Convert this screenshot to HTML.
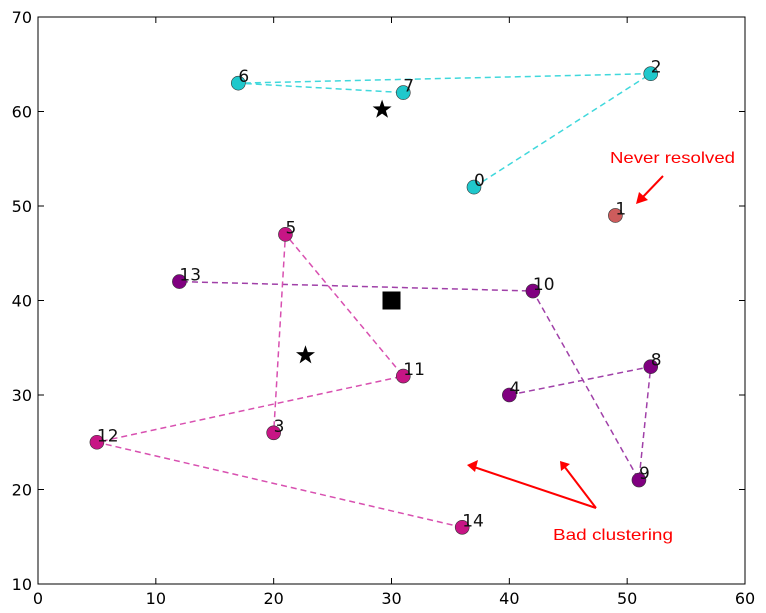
<!DOCTYPE html>
<html><head><meta charset="utf-8"><style>
body{margin:0;background:#fff;}
svg text{font-family:"DejaVu Sans","Liberation Sans",sans-serif;}
</style></head><body>
<svg id="chart" width="766" height="608" xmlns="http://www.w3.org/2000/svg">
<rect x="0" y="0" width="766" height="608" fill="#fff"/>
<g id="lines"></g><g id="marks"></g><g id="labels"></g>
<rect x="38" y="17" width="707" height="567" fill="none" stroke="#000" stroke-width="1"/>
<g id="axes"></g>
<g>
<text x="610" y="163" fill="red" font-size="16" textLength="125" lengthAdjust="spacingAndGlyphs" style="font-family:'Liberation Sans Narrow','Liberation Sans',sans-serif">Never resolved</text>
<line x1="663" y1="176" x2="640" y2="200" stroke="red" stroke-width="2"/>
<polygon points="636,204 639,192 648,200" fill="red"/>
</g>
<g>
<text x="553" y="540" fill="red" font-size="16" textLength="120" lengthAdjust="spacingAndGlyphs" style="font-family:'Liberation Sans Narrow','Liberation Sans',sans-serif">Bad clustering</text>
<line x1="596" y1="508" x2="474" y2="467" stroke="red" stroke-width="2"/>
<polygon points="467,465 478,460 475,472" fill="red"/>
<line x1="596" y1="508" x2="564" y2="466" stroke="red" stroke-width="2"/>
<polygon points="560,461 570,464 561,471" fill="red"/>
</g>
</svg>
<script>
const ids = [0,1,2,3,4,5,6,7,8,9,10,11,12,13,14];
const xs = [37,49,52,20,40,21,17,31,52,51,42,31,5,12,36];
const ys = [52,49,64,26,30,47,63,62,33,21,41,32,25,42,16];
const groups = ['c','r','c','m','p','m','c','c','p','p','p','m','m','p','m'];
const paths = {c:[0,2,6,7], p:[4,8,9,10,13], m:[14,12,11,5,3]};
const starsX = [29.2,22.7];
const starsY = [60.2,34.2];
const squareX = [30];
const squareY = [40];
const xTicks = [0,10,20,30,40,50,60];
const yTicks = [10,20,30,40,50,60,70];
const fill = {c:'#1fc8cc', r:'#cd5c5c', p:'#800080', m:'#c71585'};
const lineCol = {c:'#40d8dc', p:'#a040a8', m:'#d850b0'};
const X = v => 38 + v*707/60;
const Y = v => 584 - (v-10)*567/60;
const NS='http://www.w3.org/2000/svg';
function mk(t,a,p){const e=document.createElementNS(NS,t);for(const k in a)e.setAttribute(k,a[k]);p.appendChild(e);return e;}
const L=document.getElementById('lines'),M=document.getElementById('marks'),T=document.getElementById('labels'),A=document.getElementById('axes');
for(const g in paths){
  const pts=paths[g].map(i=>X(xs[i])+','+Y(ys[i])).join(' ');
  const e=mk('polyline',{points:pts,fill:'none',stroke:lineCol[g],'stroke-width':1.5,'stroke-dasharray':'6,4'},L);
  
  
}
ids.forEach((id,i)=>{
  const c=mk('circle',{cx:X(xs[i]),cy:Y(ys[i]),r:7,fill:fill[groups[i]],stroke:'#333','stroke-width':0.6},M);
  
  
  const t=mk('text',{x:X(xs[i]),y:Y(ys[i])-1,'font-size':17,fill:'#111'},T);
  t.textContent=id;
  
  
});
starsX.forEach((sx,i)=>{
  const cx=X(sx),cy=Y(starsY[i]);let p=[];
  for(let k=0;k<10;k++){const r=k%2?4:10,a=-Math.PI/2+k*Math.PI/5;p.push((cx+r*Math.cos(a)).toFixed(1)+','+(cy+r*Math.sin(a)).toFixed(1));}
  const s=mk('polygon',{points:p.join(' '),fill:'#000'},M);
  
  
});
squareX.forEach((sx,i)=>{
  const s=mk('rect',{x:X(sx)-9,y:Y(squareY[i])-9,width:18,height:18,fill:'#000'},M);
  
  
});
xTicks.forEach(v=>{
  mk('line',{x1:X(v),x2:X(v),y1:584,y2:578,stroke:'#000'},A);
  mk('line',{x1:X(v),x2:X(v),y1:17,y2:23,stroke:'#000'},A);
  const t=mk('text',{x:X(v),y:604,'font-size':16,'text-anchor':'middle'},A);
  t.textContent=v;
  
  
});
yTicks.forEach(v=>{
  mk('line',{x1:38,x2:44,y1:Y(v),y2:Y(v),stroke:'#000'},A);
  mk('line',{x1:745,x2:739,y1:Y(v),y2:Y(v),stroke:'#000'},A);
  const t=mk('text',{x:32,y:Y(v)+6,'font-size':16,'text-anchor':'end'},A);
  t.textContent=v;
  
  
});
</script>
</body></html>
